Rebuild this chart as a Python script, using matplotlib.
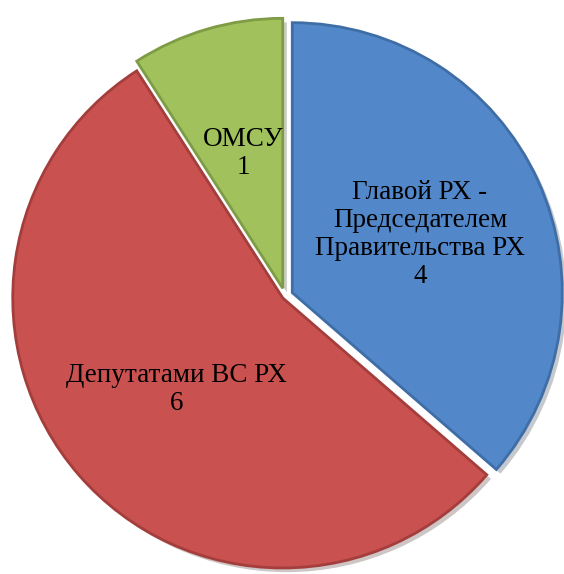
import matplotlib.pyplot as plt
import matplotlib.patheffects as pe

labels = ["Главой РХ -\nПредседателем\nПравительства РХ", "Депутатами ВС РХ", "ОМСУ"]
values = [4, 6, 1]
colors = ["#5288CA", "#C9514F", "#A0C15C"]
edge_colors = ["#3F6DA6", "#A43E3C", "#7E9C45"]
# explode in pixel units (pie explode is not scaled by radius)
explode = [8, 3, 8]

fig = plt.figure(figsize=(5.64, 5.74), dpi=100)
ax = fig.add_axes([0, 0, 1, 1])

texts_in = [f"{l}\n{v}" for l, v in zip(labels, values)]
wedges, texts = ax.pie(values, labels=texts_in, colors=colors, explode=explode,
                       startangle=90, counterclock=False, radius=270,
                       center=(285, 278), labeldistance=0.52, frame=True,
                       wedgeprops=dict(linewidth=0),
                       textprops=dict(fontsize=19.5, family="Liberation Serif",
                                      linespacing=1.15))
for w, ec in zip(wedges, edge_colors):
    w.set_edgecolor(ec)
    w.set_linewidth(2)
    w.set_path_effects([pe.SimplePatchShadow(offset=(3, -3), alpha=0.25), pe.Normal()])
for t in texts:
    t.set_ha("center")
    t.set_va("center")
ax.set_xlim(0, 564)
ax.set_ylim(0, 574)
ax.set_aspect("equal")
ax.axis("off")

fig.savefig("out.png", dpi=100)
